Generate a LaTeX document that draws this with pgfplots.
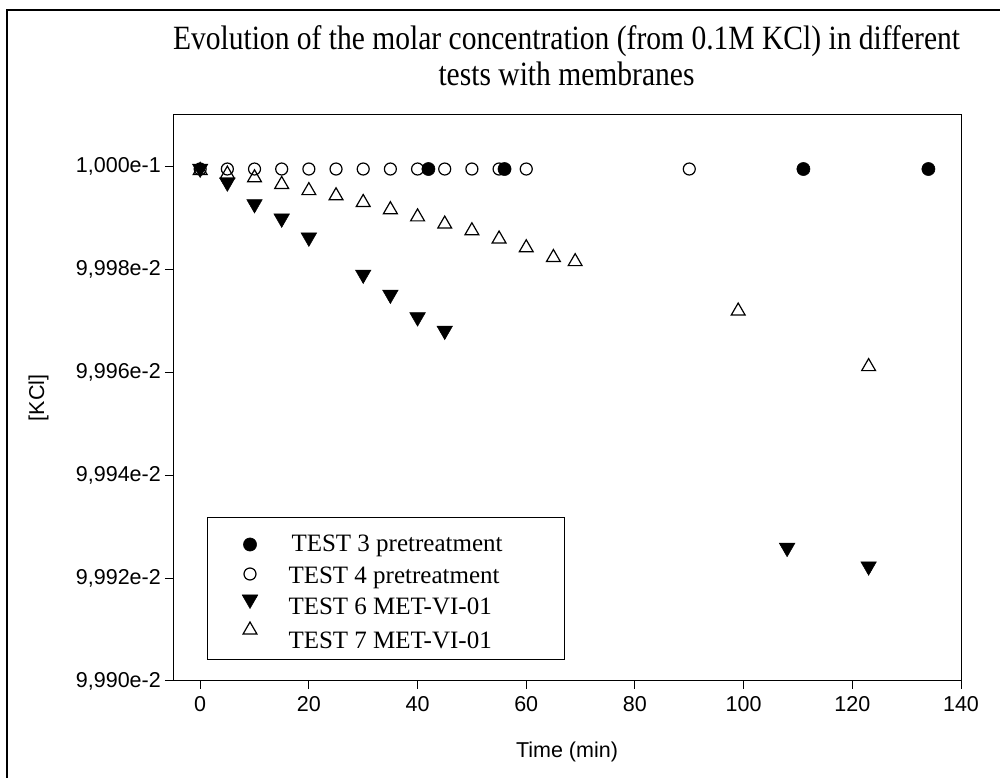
\documentclass[border=0pt]{standalone}
\usepackage{fontspec}
\setmainfont{Liberation Sans}
\newfontfamily\seriffont{Liberation Serif}
\usepackage{pgfplots}
\pgfplotsset{compat=1.18}
\pgfplotsset{
  mylegend/.style={legend image code/.code={\path (-10pt,0pt) (10pt,0pt); \draw[##1] plot coordinates {(0pt,#1)};}},
}
\newsavebox\tla
\begin{document}
\sbox\tla{\seriffont\fontsize{34}{40}\selectfont Evolution of the molar concentration (from 0.1M KCl) in different}%
\pgfmathsetmacro\tfac{787/\wd\tla}%
\begin{tikzpicture}[x=1pt,y=1pt]
\path[use as bounding box] (0,0) rectangle (1000,778);
\draw[line width=1.2pt] (7,-10) -- (7,768) -- (1010,768);
\node[anchor=base, inner sep=0pt] at (566.5,728) {\scalebox{\tfac}[1]{\usebox\tla}};
\node[anchor=base, inner sep=0pt] at (566.5,692) {\scalebox{\tfac}[1]{\seriffont\fontsize{34}{40}\selectfont tests with membranes}};
\node[anchor=base, inner sep=0pt, font=\fontsize{21.5}{24}\selectfont] at (567,20) {Time (min)};
\node[anchor=base, rotate=90, inner sep=0pt, font=\fontsize{21.5}{24}\selectfont] at (44,380) {[KCl]};
\begin{axis}[
  at={(173pt,97pt)}, anchor=south west,
  scale only axis, width=788pt, height=566pt,
  xmin=-5, xmax=140, ymin=0.0999, ymax=0.10001,
  axis line style={line width=1pt},
  every tick/.style={line width=1pt, black},
  major tick length=8pt, tick align=outside,
  xtick pos=bottom, ytick pos=left,
  xtick={0,20,40,60,80,100,120,140},
  xticklabels={0,20,40,60,80,100,120,140},
  ytick={0.0999,0.09992,0.09994,0.09996,0.09998,0.1},
  yticklabels={{9,990e-2},{9,992e-2},{9,994e-2},{9,996e-2},{9,998e-2},{1,000e-1}},
  tick label style={font=\fontsize{21.5}{24}\selectfont, inner sep=0pt},
  xticklabel style={yshift=-7pt},
  yticklabel style={xshift=-4pt},
  legend style={at={(axis description cs:0.04315,0.28975)}, anchor=north west,
    draw=black, line width=1pt, inner xsep=32pt, inner ysep=10pt,
    row sep=6pt, column sep=28pt,
    font=\seriffont\fontsize{25}{30}\selectfont,
    nodes={inner sep=0pt}, cells={anchor=base west}},
]
\addplot[only marks, mark=*, mark size=6.6pt, mark options={fill=black, draw=black, line width=0.5pt}, mylegend=7pt]
 coordinates {(42,0.0999995) (56,0.0999995) (111,0.0999995) (134,0.0999995)};
\addplot[only marks, mark=o, mark size=6pt, mark options={draw=black, line width=1.2pt}, mylegend=9pt]
 coordinates {(0,0.0999995) (5,0.0999995) (10,0.0999995) (15,0.0999995) (20,0.0999995) (25,0.0999995) (30,0.0999995) (35,0.0999995) (40,0.0999995) (45,0.0999995) (50,0.0999995) (55,0.0999995) (60,0.0999995) (90,0.0999995)};
\addplot[only marks, mark=triangle*, mark size=9pt, mark options={rotate=180, fill=black, draw=black, line width=0.5pt}, mylegend=15pt]
 coordinates {(0,0.0999996) (5,0.0999969) (10,0.0999927) (15,0.0999899) (20,0.0999862) (30,0.0999790) (35,0.0999751) (40,0.0999707) (45,0.0999681) (108,0.0999259) (123,0.0999223)};
\addplot[only marks, mark=triangle, mark size=8pt, mark options={draw=black, line width=1.2pt}, mylegend=18pt]
 coordinates {(0,0.0999992) (5,0.0999985) (10,0.0999978) (15,0.0999965) (20,0.0999953) (25,0.0999943) (30,0.0999930) (35,0.0999916) (40,0.0999902) (45,0.0999888) (50,0.0999875) (55,0.0999859) (60,0.0999842) (65,0.0999823) (69,0.0999815) (99,0.0999719) (123,0.0999611)};
\legend{\makebox[244pt][l]{\rule[-1.5pt]{0pt}{25.5pt}\smash{\hspace*{3pt}TEST 3 pretreatment}},
  \makebox[244pt][l]{\rule[-1.5pt]{0pt}{25.5pt}\smash{TEST 4 pretreatment}},
  \makebox[244pt][l]{\rule[-1.5pt]{0pt}{25.5pt}\smash{TEST 6 MET-VI-01}},
  \makebox[244pt][l]{\rule[-1.5pt]{0pt}{25.5pt}\smash{TEST 7 MET-VI-01}}}
\end{axis}
\end{tikzpicture}
\end{document}
